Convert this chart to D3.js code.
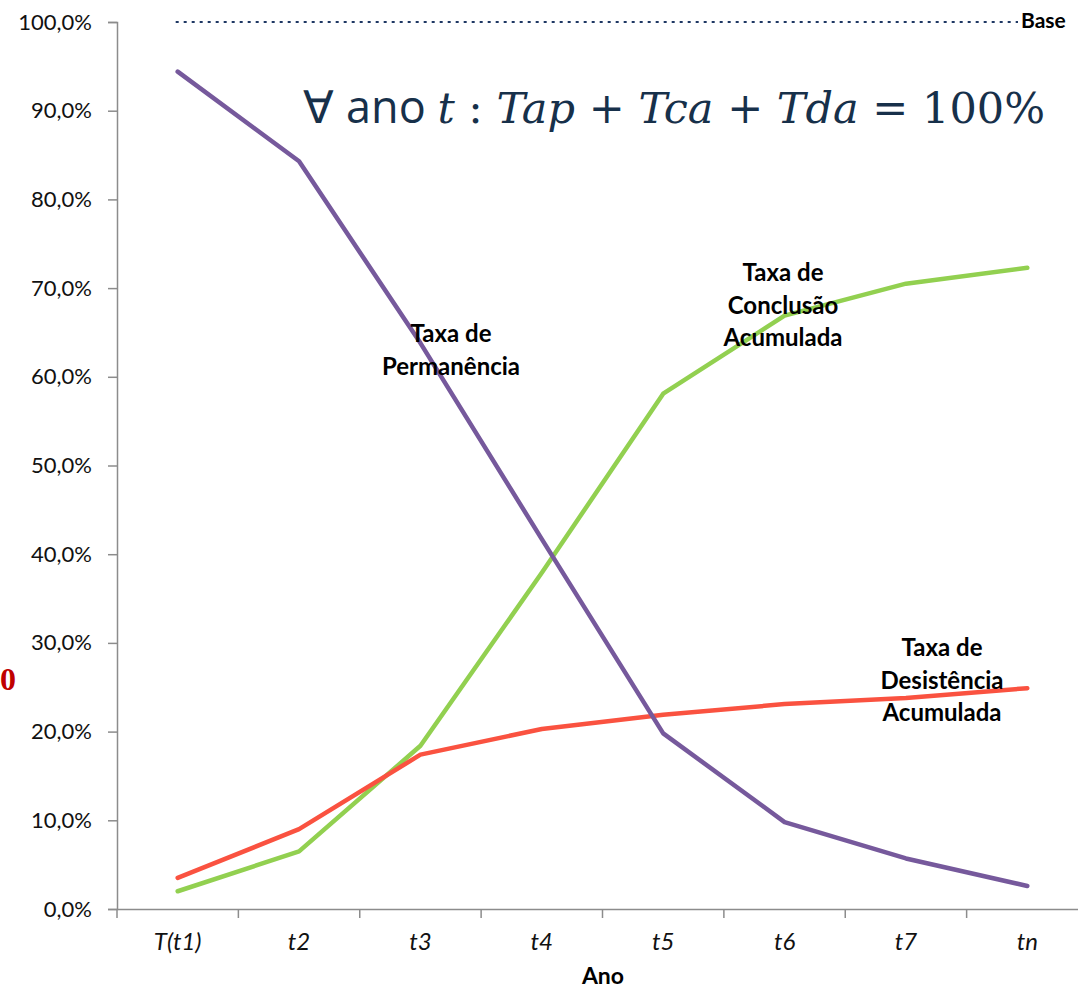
<!DOCTYPE html>
<html>
<head>
<meta charset="utf-8">
<script src="https://cdn.jsdelivr.net/npm/d3@7"></script>
<style>
  body { margin: 0; background: #fff; }
  svg { display: block; }
</style>
</head>
<body>
<div id="chart"></div>
<script>
// Categories and series values (percent)
var anos = ["T(t1)", "t2", "t3", "t4", "t5", "t6", "t7", "tn"];
var permanencia = [94.4, 84.3, 63.8, 41.7, 19.8, 9.8, 5.7, 2.6];
var conclusao = [2.0, 6.5, 18.4, 37.9, 58.1, 66.9, 70.5, 72.3];
var desistencia = [3.5, 9.0, 17.4, 20.3, 21.9, 23.1, 23.8, 24.9];
var yTicks = [0, 10, 20, 30, 40, 50, 60, 70, 80, 90, 100];
var base = 100;

var W = 1078, H = 991;
var margin = { top: 22, left: 117, bottom: 82 };
var plotRight = 1088;
var font = "Lato, 'Open Sans', sans-serif";

var svg = d3.select("#chart").append("svg")
    .attr("width", W)
    .attr("height", H);

var x = d3.scaleBand()
    .domain(anos)
    .range([margin.left, plotRight]);

var y = d3.scaleLinear()
    .domain([0, 100])
    .range([H - margin.bottom, margin.top]);

var fmt = function (d) { return d3.format(".1f")(d).replace(".", ",") + "%"; };

// y axis
var yAxis = svg.append("g")
    .attr("transform", "translate(" + margin.left + ",0)")
    .call(d3.axisLeft(y).tickValues(yTicks).tickFormat(fmt).tickSize(9).tickPadding(16));
yAxis.selectAll("path, line").attr("stroke", "#8c8c8c").attr("stroke-width", 1.5);
yAxis.selectAll("text")
    .style("font-family", font)
    .style("font-size", "22px")
    .attr("fill", "#111");

// x axis
var xAxis = svg.append("g")
    .attr("transform", "translate(0," + y(0) + ")")
    .call(d3.axisBottom(x).tickSize(0).tickPadding(24));
xAxis.select("path").attr("stroke", "#8c8c8c").attr("stroke-width", 1.5);
xAxis.selectAll("text")
    .style("font-family", font)
    .style("font-size", "24px")
    .style("font-style", "italic")
    .attr("fill", "#111");
// tick marks at band boundaries
svg.append("g").selectAll("line")
    .data(d3.range(anos.length + 1))
    .enter().append("line")
    .attr("x1", function (i) { return margin.left + x.step() * i; })
    .attr("x2", function (i) { return margin.left + x.step() * i; })
    .attr("y1", y(0))
    .attr("y2", y(0) + 9)
    .attr("stroke", "#8c8c8c")
    .attr("stroke-width", 1.5);

// Base dotted line
var cx = function (d, i) { return x(anos[i]) + x.bandwidth() / 2; };
svg.append("line")
    .attr("x1", cx(null, 0) - 2)
    .attr("x2", 1018)
    .attr("y1", y(base))
    .attr("y2", y(base))
    .attr("stroke", "#1f3864")
    .attr("stroke-width", 2)
    .attr("stroke-dasharray", "3,5");
svg.append("text")
    .attr("x", 1021)
    .attr("y", y(base) + 6)
    .style("font-family", font)
    .style("font-size", "21px")
    .style("font-weight", "bold")
    .text("Base");

// series lines
var line = d3.line()
    .x(function (d, i) { return cx(d, i); })
    .y(function (d) { return y(d); });

var series = [
    { values: conclusao, color: "#92d050" },
    { values: desistencia, color: "#fa5240" },
    { values: permanencia, color: "#76599c" }
];
series.forEach(function (s) {
    svg.append("path")
        .datum(s.values)
        .attr("d", line)
        .attr("fill", "none")
        .attr("stroke", s.color)
        .attr("stroke-width", 4.5)
        .attr("stroke-linecap", "round")
        .attr("stroke-linejoin", "round");
});

// series labels
var labels = [
    { lines: ["Taxa de", "Permanência"], x: 451, y: 342 },
    { lines: ["Taxa de", "Conclusão", "Acumulada"], x: 783, y: 281 },
    { lines: ["Taxa de", "Desistência", "Acumulada"], x: 942, y: 656 }
];
labels.forEach(function (l) {
    var t = svg.append("text")
        .attr("text-anchor", "middle")
        .style("font-family", font)
        .style("font-size", "24px")
        .style("font-weight", "bold")
        .attr("fill", "#000");
    l.lines.forEach(function (s, i) {
        t.append("tspan").attr("x", l.x).attr("y", l.y + i * 32.5).text(s);
    });
});

// formula
var serif = "'DejaVu Serif', serif";
var f = svg.append("text")
    .attr("x", 1045)
    .attr("y", 123)
    .attr("text-anchor", "end")
    .attr("fill", "#17304a")
    .style("font-size", "43px");
f.append("tspan").style("font-family", "'Open Sans', Lato, sans-serif").style("font-size", "45px").text("∀ ano ");
f.append("tspan").style("font-family", serif).style("font-style", "italic").text("t");
f.append("tspan").style("font-family", serif).text(" : ");
f.append("tspan").style("font-family", serif).style("font-style", "italic").text("Tap");
f.append("tspan").style("font-family", serif).text(" + ");
f.append("tspan").style("font-family", serif).style("font-style", "italic").text("Tca");
f.append("tspan").style("font-family", serif).text(" + ");
f.append("tspan").style("font-family", serif).style("font-style", "italic").text("Tda");
f.append("tspan").style("font-family", serif).text(" = 100%");

// red 0 on the left edge
svg.append("text")
    .attr("x", 0)
    .attr("y", 690)
    .attr("fill", "#c00000")
    .style("font-family", "'Liberation Serif', serif")
    .style("font-size", "32px")
    .style("font-weight", "bold")
    .text("0");

// x axis title
svg.append("text")
    .attr("x", 603)
    .attr("y", 984)
    .attr("text-anchor", "middle")
    .style("font-family", font)
    .style("font-size", "23px")
    .style("font-weight", "bold")
    .text("Ano");
</script>
</body>
</html>
